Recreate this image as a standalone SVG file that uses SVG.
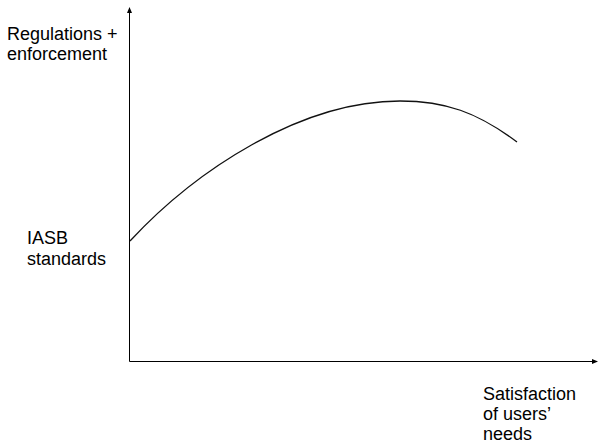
<svg xmlns="http://www.w3.org/2000/svg" width="598" height="443" viewBox="0 0 598 443">
<style>
text{font-family:"Liberation Sans",Arial,sans-serif;font-size:18px;fill:#000}
.ax{stroke:#000;stroke-width:1;fill:none}
.cv{stroke:#111;stroke-width:1.3;fill:none}
</style>
<defs>
<marker id="ah" viewBox="0 0 6 6" refX="5" refY="3" markerWidth="6" markerHeight="6" markerUnits="userSpaceOnUse" orient="auto"><path d="M0,0.5 L6,3 L0,5.5 z" fill="#000"/></marker>
</defs>
<rect width="598" height="443" fill="#fff"/>
<g id="connectors">
<line class="ax" x1="129.5" y1="361.5" x2="129.5" y2="8" marker-end="url(#ah)"/>
<line class="ax" x1="129.5" y1="361.5" x2="597" y2="361.5" marker-end="url(#ah)"/>
<path class="cv" d="M130,241 C195,171 300,101 400,101 C445,101 477,112 517,142"/>
</g>
<g id="y-label"><text x="7" y="40">Regulations +</text><text x="7" y="60">enforcement</text></g>
<g id="iasb-label"><text x="27" y="244">IASB</text><text x="27" y="265">standards</text></g>
<g id="x-label"><text x="483" y="400">Satisfaction</text><text x="483" y="420">of users’</text><text x="483" y="440">needs</text></g>
</svg>
